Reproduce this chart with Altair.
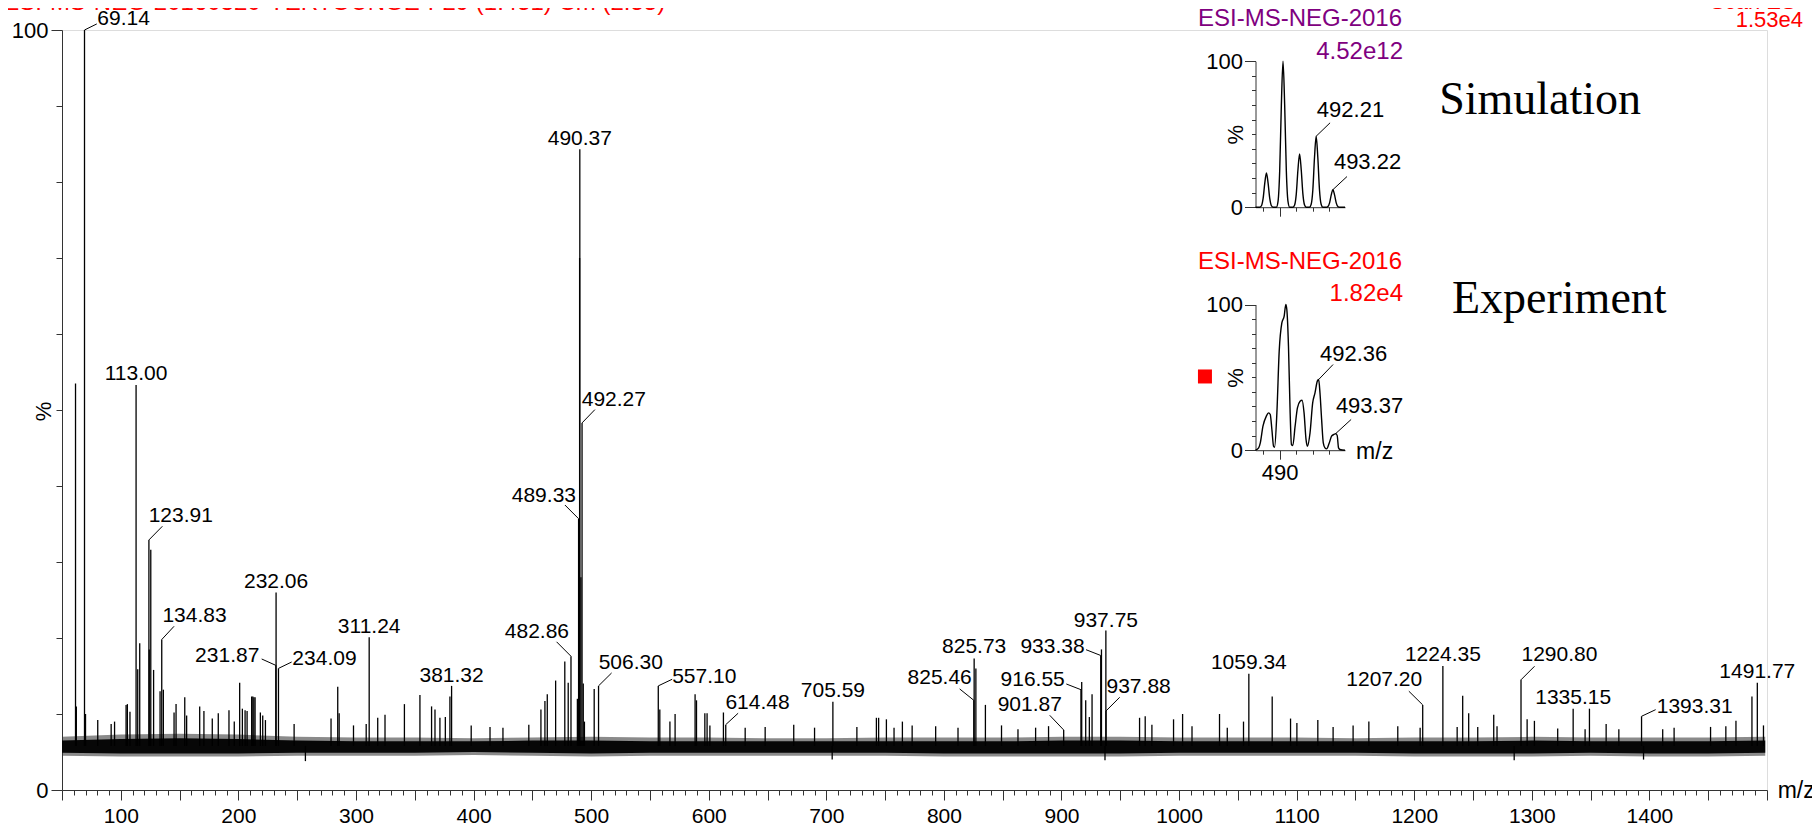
import altair as alt
import pandas as pd

FONT = "Liberation Sans"
SERIF = "Liberation Serif"

# ---------------- main spectrum: baseline noise envelope ----------------
noise_mz = [50, 100, 150, 200, 250, 300, 350, 400, 450, 500, 550, 600, 650, 700, 750,
            800, 850, 900, 950, 1000, 1050, 1100, 1150, 1200, 1250, 1300, 1350, 1400, 1450, 1498.5]
noise_hi = [7.0, 7.3, 7.4, 7.3, 7.0, 6.9, 6.9, 6.8, 6.9, 7.0, 6.9, 6.9, 6.8, 6.8, 6.9,
            6.9, 6.9, 7.0, 7.0, 6.9, 6.9, 6.9, 6.8, 6.9, 6.9, 7.0, 6.9, 6.9, 6.9, 7.0]
noise_lo = [4.5, 4.4, 4.4, 4.4, 4.5, 4.5, 4.5, 4.6, 4.5, 4.4, 4.5, 4.5, 4.5, 4.5, 4.5,
            4.4, 4.4, 4.4, 4.4, 4.5, 4.5, 4.5, 4.5, 4.4, 4.4, 4.4, 4.5, 4.4, 4.4, 4.5]
core_hi = [6.5, 6.7, 6.8, 6.7, 6.5, 6.4, 6.4, 6.4, 6.5, 6.5, 6.4, 6.4, 6.4, 6.4, 6.4,
           6.4, 6.4, 6.5, 6.5, 6.4, 6.4, 6.4, 6.4, 6.4, 6.4, 6.5, 6.4, 6.4, 6.4, 6.5]
core_lo = [4.9, 4.8, 4.8, 4.8, 4.9, 4.9, 4.9, 5.0, 4.9, 4.8, 4.9, 4.9, 4.9, 4.9, 4.9,
           4.8, 4.8, 4.8, 4.8, 4.9, 4.9, 4.9, 4.9, 4.8, 4.8, 4.8, 4.9, 4.8, 4.8, 4.9]
BASELINE = 5.8

# ---------------- unlabelled peaks / spikes (m/z, %) ----------------
spike_mz = [61.5, 62.2, 70.0, 80.4, 91.8, 94.7, 104.5, 105.6, 107.8, 114.4,
            116.1, 124.2, 125.5, 127.9, 133.4, 136.2, 145.3, 147.0, 154.4, 156.0,
            167.1, 170.7, 177.8, 182.9, 192.0, 196.5, 201.1, 203.4, 205.7, 207.4,
            211.3, 212.3, 213.2, 214.2, 218.7, 220.7, 223.0, 247.4, 278.8, 284.5,
            285.7, 297.9, 308.7, 318.5, 324.7, 341.2, 354.4, 364.3, 367.2, 371.4,
            376.0, 379.9, 398.0, 414.0, 425.0, 447.0, 457.3, 460.7, 462.7, 469.8,
            477.6, 480.5, 488.3, 490.2, 491.3, 493.3, 494.3, 502.6, 558.4, 567.0,
            571.4, 588.4, 589.6, 596.7, 598.6, 601.0, 612.5, 631.0, 648.0, 672.3,
            690.0, 726.0, 742.6, 744.5, 751.1, 757.6, 764.7, 773.0, 793.0, 812.0,
            827.2, 835.3, 849.0, 863.0, 878.0, 889.0, 917.2, 920.6, 923.7, 926.0,
            934.0, 966.4, 971.2, 976.9, 995.3, 1003.0, 1011.0, 1034.4, 1041.0, 1054.8,
            1079.2, 1094.8, 1100.2, 1118.0, 1131.0, 1148.0, 1161.4, 1186.0, 1205.0, 1236.5,
            1241.2, 1246.3, 1254.0, 1267.6, 1270.4, 1296.0, 1302.2, 1322.0, 1345.3, 1349.0,
            1363.2, 1374.0, 1411.3, 1421.0, 1452.0, 1465.0, 1473.6, 1487.2, 1497.0,
            257.0, 705.0, 937.0, 1285.0, 1395.0]
spike_pct = [53.5, 11.0, 10.0, 9.2, 8.7, 9.0, 11.2, 11.3, 10.3, 15.9,
             19.3, 18.5, 31.6, 15.8, 13.0, 13.2, 10.2, 11.3, 12.2, 9.8,
             11.0, 10.4, 9.4, 10.1, 10.5, 9.0, 14.1, 10.7, 10.5, 10.4,
             12.3, 12.3, 12.2, 12.2, 10.2, 9.8, 9.2, 8.7, 9.4, 13.6,
             10.1, 8.5, 8.7, 9.5, 9.9, 11.3, 12.5, 11.0, 10.6, 9.5,
             9.6, 12.3, 8.5, 8.3, 8.2, 8.6, 10.6, 11.7, 12.6, 14.4,
             16.9, 14.1, 12.0, 70.0, 28.0, 14.0, 9.0, 13.3, 10.6, 9.0,
             10.0, 12.6, 11.8, 10.1, 10.1, 8.5, 10.2, 8.2, 8.3, 8.6,
             8.2, 8.3, 9.5, 9.5, 9.3, 8.2, 9.0, 8.5, 8.4, 8.2,
             16.0, 11.2, 8.5, 8.0, 8.2, 8.4, 14.2, 11.8, 9.6, 12.6,
             18.5, 9.5, 9.7, 8.6, 9.3, 10.0, 8.4, 10.0, 8.2, 9.0,
             12.3, 9.4, 8.8, 9.2, 8.3, 8.5, 9.0, 8.4, 8.2, 8.3,
             12.4, 10.1, 8.3, 9.9, 8.4, 9.3, 9.1, 8.1, 8.0, 10.7,
             8.7, 8.0, 8.0, 8.2, 8.3, 8.4, 9.1, 12.3, 8.5,
             3.8, 4.0, 3.9, 3.9, 4.0]

# ---------------- labelled peaks ----------------
peak_label = ["69.14", "113.00", "123.91", "134.83", "232.06", "231.87", "234.09", "311.24",
              "381.32", "482.86", "489.33", "490.37", "492.27", "506.30", "557.10", "614.48",
              "705.59", "825.73", "825.46", "901.87", "916.55", "933.38", "937.75", "937.88",
              "1059.34", "1207.20", "1224.35", "1290.80", "1335.15", "1393.31", "1491.77"]
peak_mz = [69.14, 113.00, 123.91, 134.83, 232.06, 231.87, 234.09, 311.24,
           381.32, 482.86, 489.33, 490.37, 492.27, 506.30, 557.10, 614.48,
           705.59, 825.73, 825.46, 901.87, 916.55, 933.38, 937.75, 937.88,
           1059.34, 1207.20, 1224.35, 1290.80, 1335.15, 1393.31, 1491.77]
peak_pct = [100.0, 53.3, 32.9, 19.8, 26.0, 16.4, 16.0, 20.1,
            13.7, 17.6, 35.7, 84.3, 48.3, 13.7, 13.7, 8.6,
            11.6, 17.3, 11.8, 7.9, 13.2, 17.7, 21.0, 10.4,
            15.3, 11.2, 16.3, 14.5, 10.7, 9.7, 14.1]
# where each label sits (m/z, % of its baseline)
label_at_mz = [102.4, 113.0, 151.0, 162.7, 232.06, 190.5, 273.2, 311.24,
               381.32, 453.9, 459.8, 490.37, 519.3, 533.7, 596.2, 641.5,
               705.59, 825.73, 796.4, 873.0, 875.5, 892.4, 937.75, 965.6,
               1059.34, 1174.5, 1224.35, 1323.5, 1335.15, 1438.5, 1491.77]
label_at_pct = [100.66, 53.9, 35.26, 22.07, 26.6, 16.8, 16.5, 20.66,
                14.2, 20.0, 37.9, 84.9, 50.5, 15.87, 14.1, 10.7,
                12.2, 18.0, 13.95, 10.36, 13.64, 18.03, 21.45, 12.76,
                15.96, 13.64, 16.93, 16.93, 11.3, 10.13, 14.74]
# leader line ends (None = label sits straight above its peak)
leader_mz = [79.6, None, 135.35, 145.3, None, 219.8, 245.3, None,
             None, 470.6, 477.7, None, 503.2, 517.4, 568.9, 625.0,
             None, None, 813.4, 890.0, 904.1, 920.9, None, 949.5,
             None, 1195.4, None, 1302.3, None, 1405.3, None]
leader_pct = [100.8, None, 34.7, 21.54, None, 17.24, 16.84, None,
              None, 19.5, 37.5, None, 50.05, 15.4, 14.57, 10.1,
              None, None, 13.3, 9.83, 13.95, 18.46, None, 12.2,
              None, 13.0, None, 16.28, None, 10.57, None]

# ---------------- insets: isotope patterns ----------------
INSET_DOMAIN = [488.55, 493.95]
sim_mz = [488.55,
          488.81, 488.91, 489.01, 489.11, 489.21, 489.31, 489.41, 489.51, 489.61,
          489.81, 489.91, 490.01, 490.11, 490.21, 490.31, 490.41, 490.51, 490.61,
          490.81, 490.91, 491.01, 491.11, 491.21, 491.31, 491.41, 491.51, 491.61,
          491.81, 491.91, 492.01, 492.11, 492.21, 492.31, 492.41, 492.51, 492.61,
          492.82, 492.92, 493.02, 493.12, 493.22, 493.32, 493.42, 493.52, 493.62,
          493.95]
sim_pct = [0,
           0, 1, 6, 16.5, 23.5, 16.5, 6, 1, 0,
           0, 4, 25, 70, 100, 70, 25, 4, 0,
           0, 1.5, 9, 25.5, 36.5, 25.5, 9, 1.5, 0,
           0, 2, 12, 34, 48.6, 34, 12, 2, 0,
           0, 0.5, 3, 8.4, 12, 8.4, 3, 0.5, 0,
           0]
exp_mz = [488.55, 488.74, 488.84, 489.0, 489.2, 489.34, 489.44, 489.54, 489.64, 489.7,
          489.84, 489.98, 490.14, 490.28, 490.38, 490.44, 490.54, 490.64, 490.72, 490.8,
          490.94, 491.08, 491.24, 491.36, 491.48, 491.6, 491.68, 491.84, 492.0, 492.14,
          492.28, 492.36, 492.44, 492.54, 492.64, 492.74, 492.84, 493.0, 493.14, 493.28,
          493.4, 493.48, 493.56, 493.64, 493.95]
exp_pct = [0, 1.6, 5, 16.5, 23.3, 25.6, 24.5, 14, 2.7, 2,
           25.6, 68, 87.4, 92, 100, 96.6, 71.4, 25.6, 3.9, 3.2,
           16.5, 29, 33.6, 34.3, 25.6, 7.3, 2.7, 11.9, 32.5, 39.4,
           47.4, 48.5, 39.4, 21, 5, 1.6, 0.9, 5, 9.6, 10.8,
           11.4, 10, 1.6, 0.5, 0]

sim_labels = ["492.21", "493.22"]
sim_label_peak = [(492.21, 48.6), (493.22, 12.0)]
sim_label_at = [(494.28, 62.1), (495.31, 26.5)]
sim_leader_end = [(493.05, 57.8), (494.07, 21.0)]

exp_labels = ["492.36", "493.37"]
exp_label_peak = [(492.36, 48.5), (493.37, 11.2)]
exp_label_at = [(494.47, 60.9), (495.43, 25.2)]
exp_leader_end = [(493.23, 58.8), (494.32, 21.1)]

# ---------------- layout ----------------
W, H = 1705, 760
PAD = {"left": 54, "top": 22, "right": 45, "bottom": 40}
INSET_LEFT, INSET_RIGHT = 1193.5, 1283
INSET1_Y = (177.2, 31.2)   # (0 %, 100 %) in plot pixels
INSET2_Y = (420.2, 274.5)
AXIS_COLOR = "#333333"

xs = alt.Scale(domain=[50, 1500], nice=False, zero=False)
ys = alt.Scale(domain=[0, 100], nice=False, zero=False)

x_axis = alt.Axis(
    values=list(range(50, 1501, 10)),
    labelExpr="datum.value % 100 == 0 && datum.value < 1500 ? datum.label : ''",
    format="d",
    tickSize={"condition": {"test": "datum.value % 50 == 0", "value": 10}, "value": 5},
    labelFontSize=21, labelFont=FONT, labelColor="black", labelPadding=5,
    labelOverlap=False, labelFlush=False,
    domainColor=AXIS_COLOR, tickColor=AXIS_COLOR, grid=False, title=None,
)
y_axis = alt.Axis(
    values=list(range(0, 101, 10)),
    labelExpr="datum.value == 0 || datum.value == 100 ? datum.label : ''",
    format="d",
    tickSize={"condition": {"test": "datum.value == 0 || datum.value == 100", "value": 11}, "value": 6},
    labelFontSize=22, labelFont=FONT, labelColor="black", labelPadding=3,
    labelOverlap=False, labelFlush=False,
    domainColor=AXIS_COLOR, tickColor=AXIS_COLOR, grid=False,
    title="%", titleX=-19, titleY=381, titleAngle=270, titleAlign="center",
    titleBaseline="middle", titleFontSize=22, titleFont=FONT,
    titleFontWeight="normal", titleColor="black",
)
X = alt.X("mz:Q", scale=xs, axis=x_axis)
Y = alt.Y("pct:Q", scale=ys, axis=y_axis)

noise_df = pd.DataFrame({"mz": noise_mz, "pct": noise_hi, "lo": noise_lo})
core_df = pd.DataFrame({"mz": noise_mz, "pct": core_hi, "lo": core_lo})
peaks_df = pd.DataFrame({"mz": spike_mz + peak_mz, "pct": spike_pct + peak_pct})
peaks_df["base"] = BASELINE
labels_df = pd.DataFrame({"mz": label_at_mz, "pct": label_at_pct, "t": peak_label})
lead_df = pd.DataFrame({"mz": peak_mz, "pct": peak_pct, "mz2": leader_mz, "pct2": leader_pct}).dropna()

outer = alt.Chart(noise_df).mark_area(color="#2a2a2a", opacity=0.55).encode(
    x=X, y=Y, y2=alt.Y2("lo:Q"))
core = alt.Chart(core_df).mark_area(color="#000000", opacity=0.95).encode(
    x=X, y=Y, y2=alt.Y2("lo:Q"))
peaks = alt.Chart(peaks_df).mark_rule(color="black", strokeWidth=1.3).encode(
    x=X, y=Y, y2=alt.Y2("base:Q"))
leaders = alt.Chart(lead_df).mark_rule(color="black", strokeWidth=1).encode(
    x=X, y=Y, x2=alt.X2("mz2:Q"), y2=alt.Y2("pct2:Q"))
labels = alt.Chart(labels_df).mark_text(
    align="center", baseline="alphabetic", fontSize=21, font=FONT, color="black"
).encode(x=X, y=Y, text="t:N")


def ann(mz, pct, text, **style):
    df = pd.DataFrame({"mz": [mz], "pct": [pct], "t": [text]})
    return alt.Chart(df).mark_text(**style).encode(x=X, y=Y, text="t:N")


title_txt = ann(0, 102.6, "ESI-MS-NEG-20160320-YERTOUNGE-F29 (1.451) Cm (2:55)",
                align="left", baseline="alphabetic", fontSize=24, font=FONT, color="#ff0000")
scan_txt = ann(1530.6, 102.72, "Scan ES-", align="right", baseline="alphabetic",
               fontSize=22, font=FONT, color="#ff0000")
tic_txt = ann(1530.6, 100.4, "1.53e4", align="right", baseline="alphabetic",
              fontSize=22, font=FONT, color="#ff0000")
sim_txt = ann(1221.2, 88.9, "Simulation", align="left", baseline="alphabetic",
              fontSize=46, font=SERIF, color="black")
exp_txt = ann(1232.1, 62.8, "Experiment", align="left", baseline="alphabetic",
              fontSize=46, font=SERIF, color="black")
mz_txt = ann(1509.1, -0.15, "m/z", align="left", baseline="middle",
             fontSize=23, font=FONT, color="black")

main = alt.layer(outer, core, peaks, leaders, labels,
                 title_txt, scan_txt, tic_txt, sim_txt, exp_txt, mz_txt)


def inset(prof_mz, prof_pct, lab_text, lab_peak, lab_at, lab_end,
          head_text, head_color, scale_text, y_pos, show_490, extra):
    y0, y100 = y_pos
    ix = alt.Scale(domain=INSET_DOMAIN, range=[INSET_LEFT, INSET_RIGHT], nice=False, zero=False)
    iy = alt.Scale(domain=[0, 100], range=[y0, y100], nice=False, zero=False)
    xkw = dict(
        orient="bottom", offset=y0 - H, values=[489, 490, 491, 492, 493],
        tickSize={"condition": {"test": "datum.value == 490", "value": 9}, "value": 4},
        domainColor=AXIS_COLOR, tickColor=AXIS_COLOR, grid=False, title=None,
        labels=show_490,
    )
    if show_490:
        xkw.update(labelExpr="datum.value == 490 ? '490' : ''", labelFontSize=22,
                   labelFont=FONT, labelColor="black", labelPadding=3,
                   labelOverlap=False, labelFlush=False)
    xax = alt.Axis(**xkw)
    yax = alt.Axis(
        orient="left", offset=-INSET_LEFT, values=list(range(0, 101, 10)),
        labelExpr="datum.value == 0 || datum.value == 100 ? datum.label : ''",
        format="d",
        tickSize={"condition": {"test": "datum.value == 0 || datum.value == 100", "value": 11}, "value": 4},
        labelFontSize=22, labelFont=FONT, labelColor="black", labelPadding=2,
        labelOverlap=False, labelFlush=False,
        domainColor=AXIS_COLOR, tickColor=AXIS_COLOR, grid=False,
        title="%", titleX=-20, titleY=(y0 + y100) / 2, titleAngle=270,
        titleAlign="center", titleBaseline="middle", titleFontSize=22,
        titleFont=FONT, titleFontWeight="normal", titleColor="black",
    )
    IX = alt.X("m:Q", scale=ix, axis=xax)
    IY = alt.Y("p:Q", scale=iy, axis=yax)

    prof = alt.Chart(pd.DataFrame({"m": prof_mz, "p": prof_pct})).mark_line(
        color="black", strokeWidth=1.4, interpolate="monotone").encode(x=IX, y=IY)
    ldf = pd.DataFrame({"m": [a for a, _ in lab_at], "p": [b for _, b in lab_at], "t": lab_text})
    labs = alt.Chart(ldf).mark_text(align="center", baseline="alphabetic", fontSize=22,
                                    font=FONT, color="black").encode(x=IX, y=IY, text="t:N")
    edf = pd.DataFrame({"m": [a for a, _ in lab_peak], "p": [b for _, b in lab_peak],
                        "m2": [a for a, _ in lab_end], "p2": [b for _, b in lab_end]})
    leads = alt.Chart(edf).mark_rule(color="black", strokeWidth=1).encode(
        x=IX, y=IY, x2=alt.X2("m2:Q"), y2=alt.Y2("p2:Q"))
    head = alt.Chart(pd.DataFrame({"m": [485.08], "p": [head_text[1]], "t": [head_text[0]]})).mark_text(
        align="left", baseline="middle", fontSize=24, font=FONT, color=head_color
    ).encode(x=IX, y=IY, text="t:N")
    sc = alt.Chart(pd.DataFrame({"m": [497.45], "p": [scale_text[1]], "t": [scale_text[0]]})).mark_text(
        align="right", baseline="middle", fontSize=24, font=FONT, color=head_color
    ).encode(x=IX, y=IY, text="t:N")
    layers = [prof, leads, labs, head, sc]
    if extra:
        mzl = alt.Chart(pd.DataFrame({"m": [494.62], "p": [-0.9], "t": ["m/z"]})).mark_text(
            align="left", baseline="middle", fontSize=23, font=FONT, color="black"
        ).encode(x=IX, y=IY, text="t:N")
        sq = alt.Chart(pd.DataFrame({"m": [485.5], "p": [50.6]})).mark_square(
            color="#ff0000", size=196, opacity=1, filled=True).encode(x=IX, y=IY)
        layers += [mzl, sq]
    return alt.layer(*layers)


inset_sim = inset(sim_mz, sim_pct, sim_labels, sim_label_peak, sim_label_at, sim_leader_end,
                  ("ESI-MS-NEG-2016", 128.6), "#800080", ("4.52e12", 106.6),
                  INSET1_Y, False, False)
inset_exp = inset(exp_mz, exp_pct, exp_labels, exp_label_peak, exp_label_at, exp_leader_end,
                  ("ESI-MS-NEG-2016", 129.5), "#ff0000", ("1.82e4", 106.9),
                  INSET2_Y, True, True)

chart = alt.layer(main, inset_sim, inset_exp).resolve_scale(
    x="independent", y="independent"
).properties(
    width=W, height=H,
    autosize=alt.AutoSizeParams(type="none"),
    padding=PAD,
).configure_view(stroke=None).configure(font=FONT)

chart.save("out.html", embed_options={"renderer": "svg", "actions": False})
